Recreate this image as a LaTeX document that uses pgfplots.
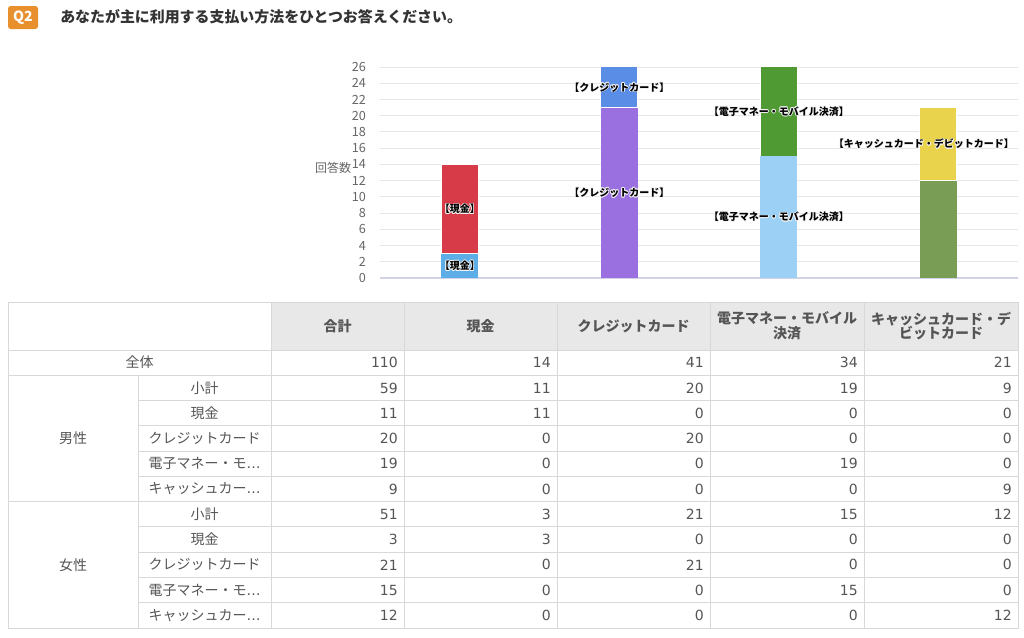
\documentclass[border=0pt]{standalone}
\usepackage{fontspec}
\setmainfont{Noto Sans CJK JP}
\newfontfamily\dejavu{DejaVu Sans}
\usepackage{pgfplots}
\pgfplotsset{compat=1.18}
\definecolor{cashF}{HTML}{5DADE6}
\definecolor{cashM}{HTML}{D63B47}
\definecolor{credF}{HTML}{9A6FE0}
\definecolor{credM}{HTML}{5A8DE6}
\definecolor{emF}{HTML}{9CD1F5}
\definecolor{emM}{HTML}{4F9A32}
\definecolor{ccF}{HTML}{7A9D55}
\definecolor{ccM}{HTML}{E9D24C}
\definecolor{gridc}{HTML}{E6E6EA}
\definecolor{axisc}{HTML}{D2D2E6}
\definecolor{tickc}{HTML}{666666}
\definecolor{txt}{HTML}{555555}
\definecolor{tline}{HTML}{D8D8D8}
\definecolor{hdr}{HTML}{E8E8E8}
\definecolor{qorange}{HTML}{E8902E}
\newcommand\el{{\dejavu …}}
\newcommand\lblfont{\fontsize{7.5}{8}\selectfont\bfseries}
\newcommand\tickfont{\fontsize{9.5}{10}\selectfont}
\tikzset{lbl/.style={font=\lblfont, text=black, inner sep=0pt}}
\newcommand\halo[2]{%
  \foreach \dx/\dy in {-0.6/0,0.6/0,0/-0.6,0/0.6,-0.45/-0.45,0.45/0.45,-0.45/0.45,0.45/-0.45}{%
    \node[lbl, text=white!92!gray] at ([xshift=\dx pt, yshift=\dy pt]#1) {#2};}%
  \node[lbl] at (#1) {#2};}
\begin{document}
\begin{tikzpicture}[x=0.75pt,y=-0.75pt]
\path[use as bounding box] (0,0) rectangle (1024,637);
% title
\fill[qorange, rounded corners=2pt] (8,6) rectangle (38,29);
\node[text=white, font=\fontsize{10.5}{12}\selectfont\bfseries] at (23,17.5) {Q2};
\node[anchor=west, inner sep=0, text=black!80, font=\fontsize{11.2}{13}\selectfont\bfseries] at (60,17) {あなたが主に利用する支払い方法をひとつお答えください。};
% chart
\begin{axis}[
  at={(285pt,-208.5pt)}, anchor=south west,
  scale only axis, width=478.5pt, height=158.25pt,
  xmin=-0.5, xmax=3.5, ymin=0, ymax=26,
  ybar stacked, bar width=27.75pt,
  ytick={0,2,...,26}, xtick=\empty,
  ymajorgrids, grid style={draw=gridc, line width=0.7pt},
  axis line style={draw=none},
  major tick length=0pt,
  /pgf/number format/assume math mode=true,
  yticklabel style={font=\tickfont, text=tickc, xshift=-7pt},
]
\addplot[fill=cashF, draw=none] coordinates {(0,3) (1,0) (2,0) (3,0)};
\addplot[fill=credF, draw=none] coordinates {(0,0) (1,21) (2,0) (3,0)};
\addplot[fill=emF, draw=none] coordinates {(0,0) (1,0) (2,15) (3,0)};
\addplot[fill=ccF, draw=none] coordinates {(0,0) (1,0) (2,0) (3,12)};
\addplot[fill=cashM, draw=white, line width=0.6pt] coordinates {(0,11) (1,0) (2,0) (3,0)};
\addplot[fill=credM, draw=white, line width=0.6pt] coordinates {(0,0) (1,20) (2,0) (3,0)};
\addplot[fill=emM, draw=white, line width=0.6pt] coordinates {(0,0) (1,0) (2,19) (3,0)};
\addplot[fill=ccM, draw=white, line width=0.6pt] coordinates {(0,0) (1,0) (2,0) (3,9)};
\draw[axisc, line width=0.8pt] (axis cs:-0.5,0) -- (axis cs:3.5,0);
\coordinate (L1) at (axis cs:0,1.5);
\coordinate (L2) at (axis cs:0,8.5);
\coordinate (L3) at (axis cs:1,10.5);
\coordinate (L4) at (axis cs:1,23.5);
\coordinate (L5) at (axis cs:2,7.5);
\coordinate (L6) at (axis cs:2,20.5);
\coordinate (L7) at (axis cs:2.91,16.5);
\end{axis}
\halo{L1}{【現金】}
\halo{L2}{【現金】}
\halo{L3}{【クレジットカード】}
\halo{L4}{【クレジットカード】}
\halo{L5}{【電子マネー・モバイル決済】}
\halo{L6}{【電子マネー・モバイル決済】}
\halo{L7}{【キャッシュカード・デビットカード】}
\node[text=tickc, font=\fontsize{9}{10}\selectfont, inner sep=0] at (333,168) {回答数};
% table
\fill[hdr] (271,302) rectangle (1018,350);
\begin{scope}[draw=tline, line width=0.75pt]
\draw (8,302) rectangle (1018,628);
\foreach \yy in {350,375.3,501.6} \draw (8,\yy) -- (1018,\yy);
\foreach \yy in {400.5,425.8,451.1,476.4,526.9,552.2,577.4,602.7} \draw (138,\yy) -- (1018,\yy);
\draw (138,375.3) -- (138,628);
\foreach \xx in {271,404,557,710,864} \draw (\xx,302) -- (\xx,628);
\end{scope}
\begin{scope}[every node/.style={text=txt, font=\fontsize{10.5}{11}\selectfont\bfseries, inner sep=0, align=center}]
\node at (337.5,326) {合計};
\node at (480.5,326) {現金};
\node at (633.5,326) {クレジットカード};
\node at (787,326) {電子マネー・モバイル\\決済};
\node at (941,326) {キャッシュカード・デ\\ビットカード};
\end{scope}
\begin{scope}[every node/.style={text=txt, font=\fontsize{10.5}{12}\selectfont, inner sep=0}]
\node at (139.5,362.6) {全体};
\node at (73,438.5) {男性};
\node at (73,564.8) {女性};
\foreach \k/\lab/\a/\b/\c/\d/\e in {
 0/{}/110/14/41/34/21,
 1/小計/59/11/20/19/9,
 2/現金/11/11/0/0/0,
 3/クレジットカード/20/0/20/0/0,
 4/電子マネー・モ\el/19/0/0/19/0,
 5/キャッシュカー\el/9/0/0/0/9,
 6/小計/51/3/21/15/12,
 7/現金/3/3/0/0/0,
 8/クレジットカード/21/0/21/0/0,
 9/電子マネー・モ\el/15/0/0/15/0,
 10/キャッシュカー\el/12/0/0/0/12}{
 \pgfmathsetmacro\yy{350+25.273*(\k+0.5)}
 \node at (204.5,\yy) {\lab};
 \node[anchor=east, font=\dejavu\fontsize{10.5}{12}\selectfont] at (398,\yy) {\a};
 \node[anchor=east, font=\dejavu\fontsize{10.5}{12}\selectfont] at (551,\yy) {\b};
 \node[anchor=east, font=\dejavu\fontsize{10.5}{12}\selectfont] at (704,\yy) {\c};
 \node[anchor=east, font=\dejavu\fontsize{10.5}{12}\selectfont] at (858,\yy) {\d};
 \node[anchor=east, font=\dejavu\fontsize{10.5}{12}\selectfont] at (1012,\yy) {\e};
}
\end{scope}
\end{tikzpicture}
\end{document}
